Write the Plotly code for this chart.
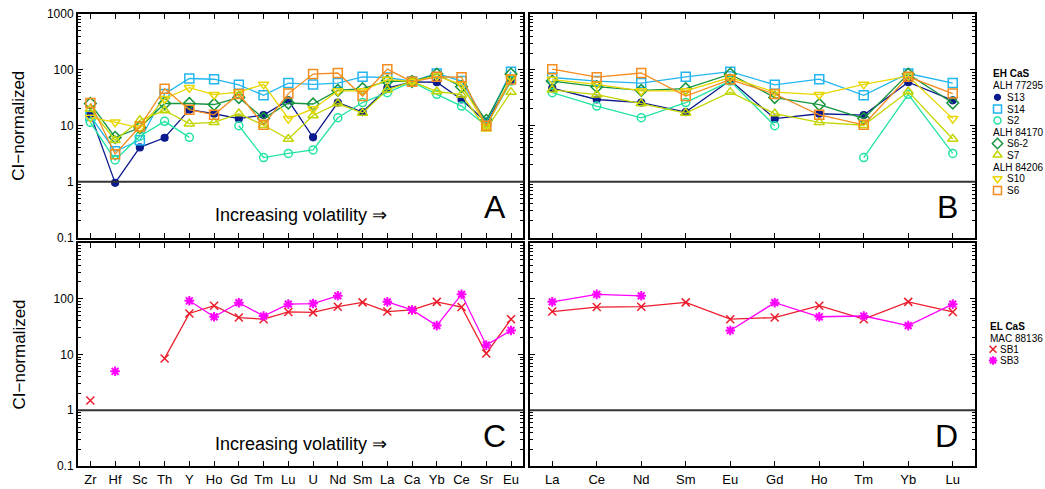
import plotly.graph_objects as go

# ---------------- data ----------------
ELEMENTS_A = ["Zr", "Hf", "Sc", "Th", "Y", "Ho", "Gd", "Tm", "Lu", "U",
              "Nd", "Sm", "La", "Ca", "Yb", "Ce", "Sr", "Eu"]
ELEMENTS_B = ["La", "Ce", "Nd", "Sm", "Eu", "Gd", "Ho", "Tm", "Yb", "Lu"]

s13 = [16, 0.95, 4.1, 6.1, 19.4, 16.4, 13.4, 15.5, 28.5, 6.2, 26, 17.6, 47, 61, 60, 29.5, 11.6, 65]
s14 = [15, 3.5, 5.5, 37, 70, 68, 54, 35, 58, 55, 58, 75, 73, 62, 86, 63, 11.5, 93]
s2 = [11.5, 2.45, 6.5, 12, 6.2, None, 10, 2.7, 3.2, 3.7, 13.9, 26, 39, 61, 36.5, 22.5, 10, 63]
s6_2 = [25, 6.2, 9.2, 25, 25, 24, 32, 13.5, 25.5, 24.5, 43, 46, 63, 62, 84, 50, 12.5, 84]
s7 = [20, 5.5, 12.5, 18.8, 10.9, 11.5, 16.5, 10.2, 5.8, 15.3, 25, 16.9, 44, 62, 41, 36, 8.8, 40]
s10 = [14, 11.6, 9.1, 30.5, 48, 36, 40, 55, 13.4, 20, 42, 42, 67, 62, 77, 55, 9.7, 73]
s6 = [25.5, 3.1, 9.7, 46, 19.4, 15.7, 37, 10.4, 37.6, 84, 88, 34, 103, 61, 75, 74, 10, 67]
sb1 = [1.5, None, None, 8.5, 54.5, 75, 46, 43, 58, 57, 72, 86, 59, 63, 88, 71, 10.4, 43]
sb3 = [None, 5.0, None, None, 92, 47.5, 85, 49, 80, 82, 113, None, 88, 63, 33, 120, 14.7, 27]

EH_SERIES = [("S13", s13), ("S14", s14), ("S2", s2), ("S6-2", s6_2),
             ("S7", s7), ("S10", s10), ("S6", s6)]
EL_SERIES = [("SB1", sb1), ("SB3", sb3)]

Y_TICKS_TOP = [0.1, 1, 10, 100, 1000]
Y_TICKS_BOT = [0.1, 1, 10, 100]

# ---------------- styles ----------------
STYLE = {
    "S13": dict(color="#0b1a8e", symbol="circle", size=7, lw=1.2),
    "S14": dict(color="#22b5ef", symbol="square-open", size=9, lw=1.5),
    "S2": dict(color="#22e3a3", symbol="circle-open", size=8, lw=1.5),
    "S6-2": dict(color="#16963f", symbol="diamond-open", size=9, lw=1.5),
    "S7": dict(color="#c2d500", symbol="triangle-up-open", size=9, lw=1.5),
    "S10": dict(color="#e9d600", symbol="triangle-down-open", size=9, lw=1.5),
    "S6": dict(color="#f58c1e", symbol="square-open", size=9, lw=1.5),
    "SB1": dict(color="#ec1c2c", symbol="x-thin-open", size=8, lw=1.5),
    "SB3": dict(color="#ff00ff", symbol="asterisk-open", size=8, lw=2),
}

FONT = "Liberation Sans, Arial, sans-serif"

fig = go.Figure()


def add_series(name, xs, ys, xa, ya):
    st = STYLE[name]
    fig.add_trace(go.Scatter(
        x=xs, y=ys, mode="lines+markers", name=name, showlegend=False,
        xaxis=xa, yaxis=ya, connectgaps=False,
        line=dict(color=st["color"], width=1.3),
        marker=dict(symbol=st["symbol"], size=st["size"], color=st["color"],
                    line=dict(color=st["color"], width=st["lw"])),
    ))


def subset(vals):
    lookup = dict(zip(ELEMENTS_A, vals))
    return [lookup[e] for e in ELEMENTS_B]


for nm, vals in EH_SERIES:
    add_series(nm, ELEMENTS_A, vals, "x", "y")
    add_series(nm, ELEMENTS_B, subset(vals), "x2", "y2")
for nm, vals in EL_SERIES:
    add_series(nm, ELEMENTS_A, vals, "x3", "y3")
    add_series(nm, ELEMENTS_B, subset(vals), "x4", "y4")

# ---------------- layout ----------------
W, H = 1045, 489
ML, MR, MT, MB = 78, 0, 14, 23
PW = W - ML - MR
PH = H - MT - MB


def fx(px):
    return (px - ML) / PW


def fy(py):
    return (H - MB - py) / PH


dom_xA = [0, fx(523.4)]
dom_xB = [fx(530), fx(975)]
dom_yT = [fy(237.5), 1]
dom_yB = [0, fy(243)]

minor_vals = [m * 10 ** e for e in range(-1, 3) for m in range(2, 10)]


def xaxis(cats, dom, anchor, labels):
    return dict(type="category", categoryorder="array", categoryarray=cats,
                range=[-0.5, len(cats) - 0.5], domain=dom, anchor=anchor,
                showline=True, linecolor="black", linewidth=2, mirror="ticks",
                ticks="inside", ticklen=5, tickwidth=1.2, tickcolor="black",
                showgrid=False, zeroline=False, showticklabels=labels,
                tickfont=dict(family=FONT, size=13, color="black"))


def yaxis(dom, anchor, labels, tv):
    return dict(type="log", range=[-1, 3], domain=dom, anchor=anchor,
                showline=True, linecolor="black", linewidth=2, mirror="ticks",
                ticks="inside", ticklen=5, tickwidth=1.2, tickcolor="black",
                tickmode="array", tickvals=tv, ticktext=[str(v) for v in tv],
                showgrid=False, zeroline=False, showticklabels=labels,
                tickfont=dict(family=FONT, size=12, color="black"),
                minor=dict(ticks="inside", ticklen=3, tickwidth=1, tickcolor="black",
                           tickmode="array", tickvals=minor_vals, showgrid=False))


fig.update_layout(
    width=W, height=H, margin=dict(l=ML, r=MR, t=MT, b=MB),
    paper_bgcolor="white", plot_bgcolor="white",
    font=dict(family=FONT, color="black"),
    showlegend=False,
    xaxis=xaxis(ELEMENTS_A, dom_xA, "y", False),
    yaxis=yaxis(dom_yT, "x", True, Y_TICKS_TOP),
    xaxis2=xaxis(ELEMENTS_B, dom_xB, "y2", False),
    yaxis2=yaxis(dom_yT, "x2", False, Y_TICKS_TOP),
    xaxis3=xaxis(ELEMENTS_A, dom_xA, "y3", True),
    yaxis3=yaxis(dom_yB, "x3", True, Y_TICKS_BOT),
    xaxis4=xaxis(ELEMENTS_B, dom_xB, "y4", True),
    yaxis4=yaxis(dom_yB, "x4", False, Y_TICKS_BOT),
    xaxis5=dict(domain=[fx(985), 1], range=[985, 1045], anchor="y5", visible=False,
                fixedrange=True),
    yaxis5=dict(domain=[0, 1], range=[-(H - MB), -MT], anchor="x5", visible=False,
                fixedrange=True),
)

# horizontal line at CI = 1 in each panel
for xr, yr in [("x", "y"), ("x2", "y2"), ("x3", "y3"), ("x4", "y4")]:
    fig.add_shape(type="line", xref=f"{xr} domain", yref=f"{yr} domain",
                  x0=0, x1=1, y0=0.25, y1=0.25,
                  line=dict(color="#333333", width=2))

# in-panel texts
for xr, yr in [("x", "y"), ("x3", "y3")]:
    fig.add_annotation(text="Increasing volatility ⇒", xref=f"{xr} domain",
                       yref=f"{yr} domain", x=0.5, y=0.10, showarrow=False,
                       xanchor="center", yanchor="middle",
                       font=dict(family=FONT, size=18, color="black"))
for letter, xr, yr in [("A", "x", "y"), ("B", "x2", "y2"), ("C", "x3", "y3"), ("D", "x4", "y4")]:
    fig.add_annotation(text=letter, xref=f"{xr} domain", yref=f"{yr} domain",
                       x=0.966, y=0.135, showarrow=False, xanchor="right",
                       yanchor="middle", font=dict(family=FONT, size=32, color="black"))

# y axis titles
for dom in (dom_yT, dom_yB):
    fig.add_annotation(text="CI−normalized", xref="paper", yref="paper",
                       x=fx(19), y=(dom[0] + dom[1]) / 2, textangle=-90,
                       showarrow=False, xanchor="center", yanchor="middle",
                       font=dict(family=FONT, size=17, color="black"))

# ---------------- custom legend ----------------
LEG_TOP = [("EH CaS", "head", 73), ("ALH 77295", "sub", 85.5), ("S13", "item", 97.3),
           ("S14", "item", 109), ("S2", "item", 120.5), ("ALH 84170", "sub", 132),
           ("S6-2", "item", 143.5), ("S7", "item", 155), ("ALH 84206", "sub", 167),
           ("S10", "item", 178.8), ("S6", "item", 190.5)]
LEG_BOT = [("EL CaS", "head", 326.7), ("MAC 88136", "sub", 338), ("SB1", "item", 349.3),
           ("SB3", "item", 360.5)]


def draw_legend(entries, x_head, x_mark, x_text):
    for label, kind, py in entries:
        if kind == "item":
            st = STYLE[label]
            fig.add_trace(go.Scatter(
                x=[x_mark], y=[-py], mode="markers", xaxis="x5", yaxis="y5",
                showlegend=False, hoverinfo="skip",
                marker=dict(symbol=st["symbol"], size=st["size"] - 1, color=st["color"],
                            line=dict(color=st["color"], width=st["lw"]))))
            fig.add_annotation(text=label, xref="x5", yref="y5", x=x_text, y=-py,
                               showarrow=False, xanchor="left", yanchor="middle",
                               font=dict(family=FONT, size=10, color="black"))
        else:
            txt = f"<b>{label}</b>" if kind == "head" else label
            fig.add_annotation(text=txt, xref="x5", yref="y5", x=x_head, y=-py,
                               showarrow=False, xanchor="left", yanchor="middle",
                               font=dict(family=FONT, size=10, color="black"))


draw_legend(LEG_TOP, 991, 997.5, 1005)
draw_legend(LEG_BOT, 987.5, 993, 998)

fig.write_html(
    "out.html",
    config={"displayModeBar": False},
    post_script="document.body.style.margin='0px';document.body.style.overflow='hidden';",
)
